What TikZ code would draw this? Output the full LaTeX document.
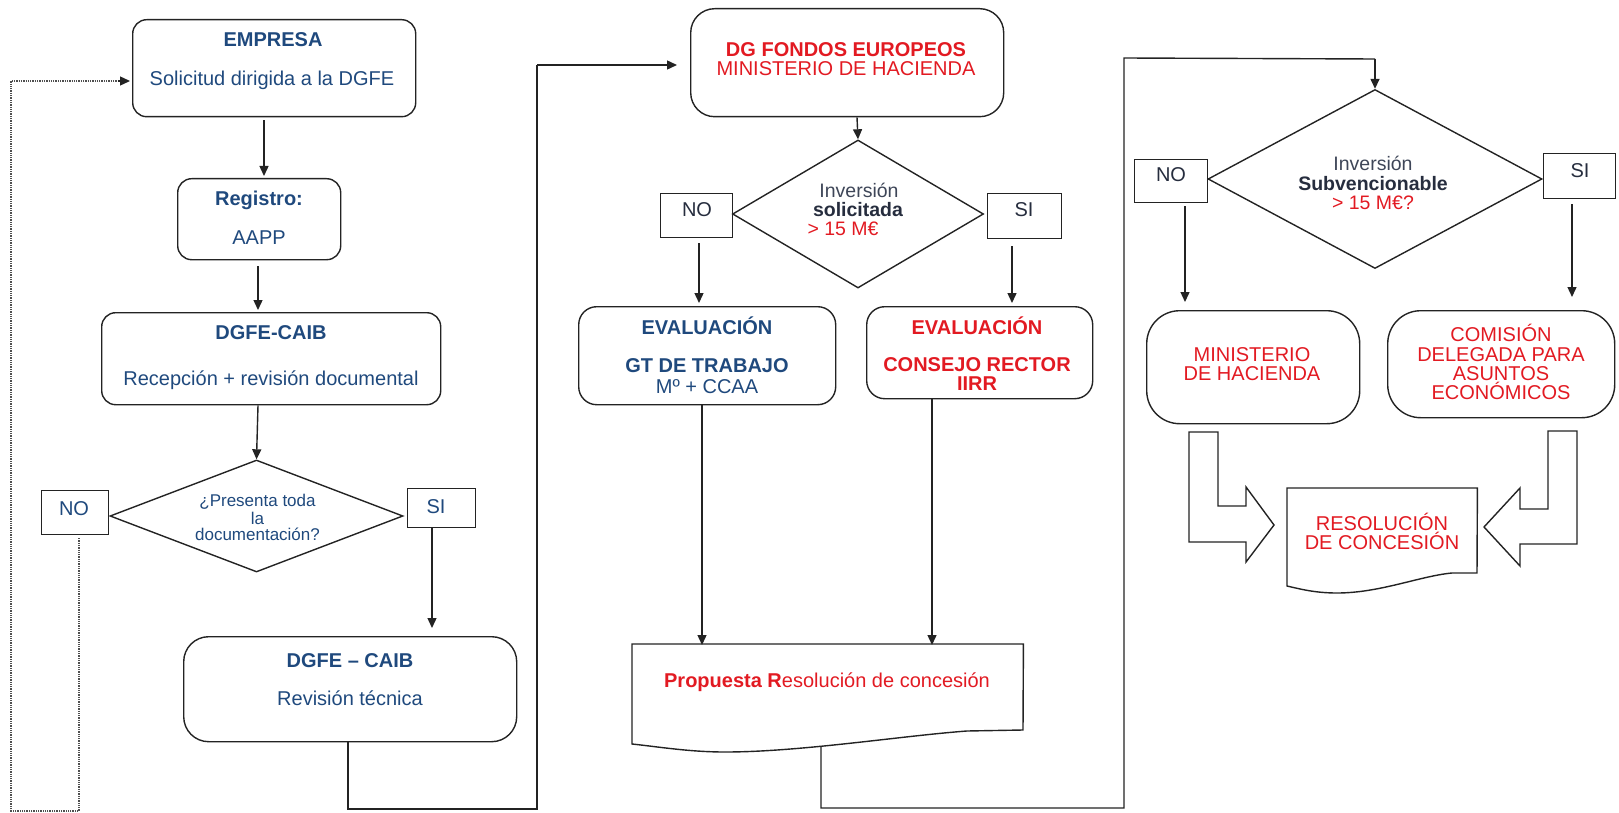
\documentclass[tikz,border=0pt]{standalone}
\usepackage{fontspec}
\setmainfont{Liberation Sans}
\usetikzlibrary{arrows.meta,shapes.geometric}
\definecolor{blueT}{RGB}{31,73,125}
\definecolor{redT}{RGB}{226,26,34}
\definecolor{darkT}{RGB}{38,45,62}
\definecolor{grayT}{RGB}{62,70,88}
\definecolor{linec}{RGB}{35,35,35}
\begin{document}
\begin{tikzpicture}[x=1pt,y=-1pt,
  ln/.style={draw=linec, line width=1.4pt},
  arr/.style={ln, -{Triangle[length=10pt,width=9pt]}},
  dots/.style={draw=linec!80, line width=1.3pt, densely dotted},
  rbox/.style={draw=linec, line width=1.4pt, rounded corners=#1, inner sep=0pt, anchor=north west},
  sbox/.style={draw=linec, line width=1.4pt, inner sep=0pt, anchor=north west},
  dia/.style={diamond, draw=linec, line width=1.4pt, inner sep=0pt},
  tx/.style={anchor=base, inner sep=0pt, font=\fontsize{20}{22}\selectfont},
  tb/.style={tx, font=\fontsize{20}{22}\selectfont\bfseries},
  ts/.style={anchor=base, inner sep=0pt, font=\fontsize{17}{17}\selectfont},
  tm/.style={anchor=base, inner sep=0pt, font=\fontsize{19.5}{19}\selectfont},
  tmb/.style={tm, font=\fontsize{19.5}{19}\selectfont\bfseries},
  blk/.style={draw=linec, line width=1.4pt, line join=miter}
]
\useasboundingbox (0,0) rectangle (1619,813);

% ---------------- left column ----------------
\node[rbox=14pt, minimum width=283pt, minimum height=97pt] (emp) at (132,19) {};
\node[tb, text=blueT] (empA) at (273,47) {EMPRESA};
\node[tx, text=blueT] (empB) at (272,86) {Solicitud dirigida a la DGFE};

\node[rbox=14pt, minimum width=163pt, minimum height=81pt] (reg) at (177,178) {};
\node[tb, text=blueT] (regA) at (259,206) {Registro:};
\node[tx, text=blueT] (regB) at (259,244) {AAPP};

\node[rbox=14pt, minimum width=339pt, minimum height=92pt] (dg1) at (101,312) {};
\node[tb, text=blueT] (dg1A) at (271,339) {DGFE-CAIB};
\node[tx, text=blueT] (dg1B) at (271,385) {Recepción + revisión documental};

\node[dia, minimum width=293pt, minimum height=112pt] (d1) at (256.5,516) {};
\node[ts, text=blueT] (d1A) at (257.5,506) {¿Presenta toda};
\node[ts, text=blueT] (d1B) at (257.5,524) {la};
\node[ts, text=blueT] (d1C) at (257.5,540) {documentación?};

\node[sbox, minimum width=67pt, minimum height=44pt] (no1) at (41,490) {};
\node[tx, text=blueT] (no1t) at (74,515) {NO};
\node[sbox, minimum width=68pt, minimum height=39pt] (si1) at (407,488) {};
\node[tx, text=blueT] (si1t) at (436,513) {SI};

\node[rbox=25pt, minimum width=333pt, minimum height=105pt] (rev) at (183,636) {};
\node[tb, text=blueT] (revA) at (350,667) {DGFE – CAIB};
\node[tx, text=blueT] (revB) at (350,705) {Revisión técnica};

\draw[arr] (264,0 |- emp.south) ++(0,3) -- (264,176);
\draw[arr] (258,0 |- reg.south) ++(0,6) -- (258,310);
\draw[arr] (258,0 |- dg1.south) -- (d1.north);
\draw[arr] (432,0 |- si1.south) -- (432,628);

\coordinate (dotA) at (79,538);
\coordinate (dotB) at (79,811);
\coordinate (dotC) at (11,811);
\coordinate (dotD) at (11,81);
\draw[dots] (dotA) -- (dotB) -- (dotC) -- (dotD) -- (120,81);
\draw[draw=linec, line width=1.3pt, -{Triangle[length=10pt,width=9pt]}] (118,81) -- (130,81);

\coordinate (c1a) at (348,809);
\coordinate (c1b) at (537,809);
\coordinate (c1c) at (537,65);

% ---------------- middle column ----------------
\node[rbox=24pt, minimum width=313pt, minimum height=108pt] (dgfe) at (690,8) {};
\node[tb, text=redT] (dgfeA) at (846,57) {DG FONDOS EUROPEOS};
\node[tx, text=redT] (dgfeB) at (846,76) {MINISTERIO DE HACIENDA};

\draw[ln] (348,0 |- rev.south) -- (c1a) -- (c1b) -- (c1c);
\draw[arr] (c1c) -- (677,65);

\node[dia, minimum width=251pt, minimum height=148pt] (d2) at (858,214) {};
\node[tm, text=grayT] (d2A) at (859,197) {Inversión};
\node[tmb, text=darkT] (d2B) at (858,216) {solicitada};
\node[tm, text=redT] (d2C) at (843,235) {> 15 M€};
\draw[arr] (857,0 |- dgfe.south) -- (d2.north);

\node[sbox, minimum width=72pt, minimum height=44pt] (no2) at (660,193) {};
\node[tx, text=darkT] (no2t) at (697,217) {NO};
\node[sbox, minimum width=74pt, minimum height=45pt] (si2) at (987,193) {};
\node[tx, text=darkT] (si2t) at (1024,217) {SI};

\node[rbox=18pt, minimum width=257pt, minimum height=98pt] (evL) at (578,306) {};
\node[tb, text=blueT] (evLA) at (707,334) {EVALUACIÓN};
\node[tb, text=blueT] (evLB) at (707,372) {GT DE TRABAJO};
\node[tx, text=blueT] (evLC) at (707,393) {Mº + CCAA};

\node[rbox=18pt, minimum width=226pt, minimum height=92pt] (evR) at (866,306) {};
\node[tb, text=redT] (evRA) at (977,334) {EVALUACIÓN};
\node[tb, text=redT] (evRB) at (977,371) {CONSEJO RECTOR};
\node[tb, text=redT] (evRC) at (977,390) {IIRR};

\draw[arr] (699,0 |- no2.south) ++(0,5) -- (699,303);
\draw[arr] (1012,0 |- si2.south) ++(0,7) -- (1012,303);

\node[inner sep=0pt, minimum width=391pt, minimum height=86pt, anchor=north west] (prop) at (632,644) {};
\draw[ln, line join=miter] (prop.north west) -- (prop.north east) -- (1023,730) -- (967,731)
  .. controls (900,736) and (800,752) .. (725,752)
  .. controls (690,752) and (660,747) .. (632,744) -- cycle;
\node[anchor=base, inner sep=0pt, text=redT, font=\fontsize{20}{22}\selectfont] (propt) at (827,687) {\textbf{Propuesta R}esolución de concesión};

\draw[arr] (702,0 |- evL.south) -- (702,645);
\draw[arr] (932,0 |- evR.south) -- (932,645);

\coordinate (c2a) at (821,808);
\coordinate (c2b) at (1124,808);
\coordinate (c2c) at (1124,58);
\coordinate (c2d) at (1375,59);

% ---------------- right column ----------------
\node[dia, minimum width=334pt, minimum height=179pt] (d3) at (1375,179) {};
\node[tm, text=grayT] (d3A) at (1373,171) {Inversión};
\node[tmb, text=darkT] (d3B) at (1373,190) {Subvencionable};
\node[tm, text=redT] (d3C) at (1373,209) {> 15 M€?};
\draw[ln] (821,747) -- (c2a) -- (c2b) -- (c2c) -- (c2d);
\draw[arr] (c2d) -- (d3.north);

\node[sbox, minimum width=73pt, minimum height=43pt] (no3) at (1134,159) {};
\node[tx, text=darkT] (no3t) at (1171,182) {NO};
\node[sbox, minimum width=72pt, minimum height=45pt] (si3) at (1543,153) {};
\node[tx, text=darkT] (si3t) at (1580,178) {SI};

\node[rbox=33pt, minimum width=213pt, minimum height=113pt] (min) at (1146,310) {};
\node[tx, text=redT] (minA) at (1252,361) {MINISTERIO};
\node[tx, text=redT] (minB) at (1252,380) {DE HACIENDA};

\node[rbox=33pt, minimum width=227pt, minimum height=107pt] (com) at (1387,310) {};
\node[tx, text=redT] (comA) at (1501,341) {COMISIÓN};
\node[tx, text=redT] (comB) at (1501,361) {DELEGADA PARA};
\node[tx, text=redT] (comC) at (1501,380) {ASUNTOS};
\node[tx, text=redT] (comD) at (1501,399) {ECONÓMICOS};

\draw[arr] (1185,0 |- no3.south) ++(0,3) -- (1185,302);
\draw[arr] (1572,0 |- si3.south) ++(0,5) -- (1572,297);

\node[inner sep=0pt, minimum width=190pt, minimum height=85pt, anchor=north west] (res) at (1287,488) {};
\draw[ln, line join=miter] (res.north west) -- (res.north east) -- (1477,573) -- (1452,573)
  .. controls (1420,576) and (1380,593) .. (1337,593)
  .. controls (1315,593) and (1300,589) .. (1287,586) -- cycle;
\node[tx, text=redT] (resA) at (1382,530) {RESOLUCIÓN};
\node[tx, text=redT] (resB) at (1382,549) {DE CONCESIÓN};

\draw[blk] (1189,432) -- (1218,432) -- (1218,506) -- (1246,506) -- (1246,487) -- (1274,525)
  -- (1246,562) -- (1246,542) -- (1189,542) -- cycle;
\draw[blk] (1577,431) -- (1548,431) -- (1548,509) -- (1520,509) -- (1520,488) -- (1484,527)
  -- (1520,566) -- (1520,544) -- (1577,544) -- cycle;
\end{tikzpicture}
\end{document}
